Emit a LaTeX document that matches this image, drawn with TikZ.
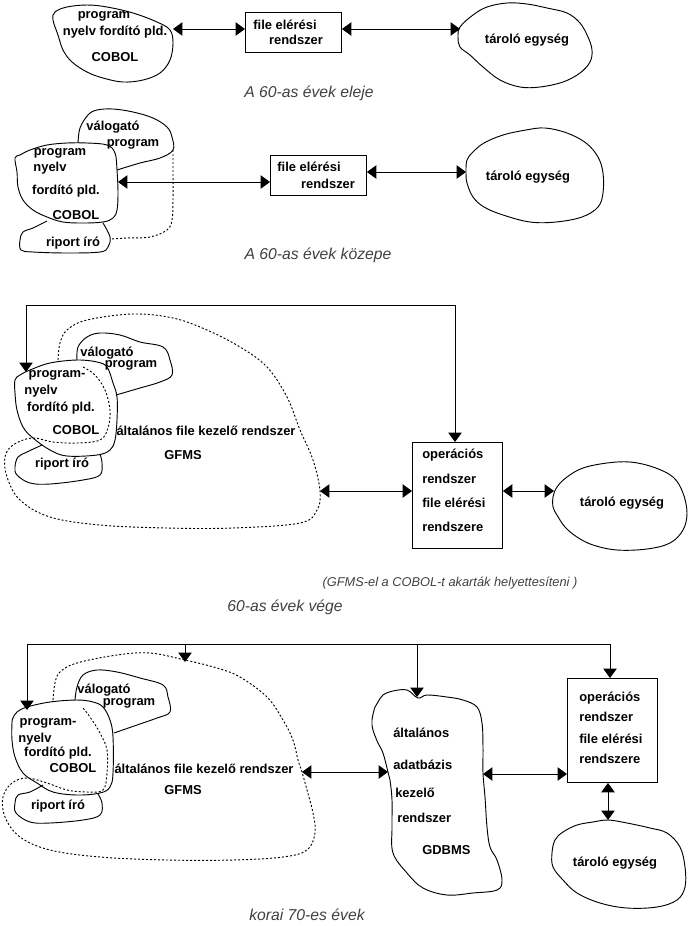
\documentclass[tikz,border=0pt]{standalone}
\usepackage{fontspec}
\setmainfont{Liberation Sans}
\usetikzlibrary{arrows.meta}
\begin{document}
\begin{tikzpicture}[x=0.75pt,y=-0.75pt,
  lbl/.style={font=\fontsize{9.7}{11}\selectfont\bfseries, inner sep=0pt},
  lbll/.style={lbl, anchor=west},
  captxt/.style={font=\fontsize{11.8}{13}\selectfont\itshape, text=black!75, inner sep=0pt},
  notest/.style={font=\fontsize{9.6}{11}\selectfont\itshape, text=black!75, inner sep=0pt},
  blob/.style={line width=0.7pt},
  dots/.style={line width=0.7pt, dash pattern=on 1.5pt off 1.5pt},
  boxst/.style={draw, line width=0.7pt, inner sep=0pt, anchor=north west},
  conn/.style={line width=0.7pt, {Triangle[length=7pt,width=10pt]}-{Triangle[length=7pt,width=10pt]}},
  drop/.style={line width=0.7pt, -{Triangle[length=7pt,width=10pt]}},
]
\useasboundingbox (0,0) rectangle (688,926);

% ================= Panel 1 =================
\draw[blob] plot[smooth cycle, tension=0.6] coordinates {(55,12) (67,7) (87,5) (107,7) (133,13) (157,22) (170,30) (173,43) (170,60) (160,73) (143,80) (123,82) (103,78) (87,72) (72,62) (63,50) (58,35) (53,20)};
\node[lbl] (p1a) at (104,16) {program};
\node[lbl] (p1b) at (115,32) {nyelv fordító pld.};
\node[lbl] (p1c) at (115,57) {COBOL};
\coordinate (c1r) at (173,29);
\node[boxst, minimum width=72pt, minimum height=30pt] (b1) at (245,12) {};
\node[lbl] (b1a) at (285,25) {file elérési};
\node[lbl] (b1b) at (296,40) {rendszer};
\draw[blob] plot[smooth cycle, tension=0.6] coordinates {(460,27) (473,15) (487,7) (507,3) (527,4) (547,8) (567,13) (580,23) (588,37) (592,50) (590,62) (580,73) (563,82) (540,87) (520,87) (500,80) (483,67) (470,55) (460,47) (458,37)};
\coordinate (t1l) at (460,29);
\node[lbl] (t1) at (527,40) {tároló egység};
\draw[conn] (c1r) -- (c1r -| b1.west);
\draw[conn] (b1.east |- t1l) -- (t1l);
\node[captxt] (cap1) at (309,93) {A 60-as évek eleje};

% ================= Panel 2 =================
\draw[blob] plot[smooth cycle, tension=0.6] coordinates {(15,158) (20,155) (30,150) (47,145) (67,143) (87,143) (107,145) (115,153) (117,170) (118,193) (117,210) (113,218) (103,222) (83,223) (63,222) (47,217) (33,210) (23,200) (18,187) (17,172)};
\draw[blob] plot[smooth, tension=0.6] coordinates {(78,143) (80,128) (88,115) (97,110) (113,109) (133,112) (153,118) (167,127) (172,137) (173,150) (160,158) (140,163) (117,170)};
\draw[dots] plot[smooth, tension=0.6] coordinates {(173,150) (173,170) (173,200) (172,220) (167,230) (150,237) (127,238) (110,239)};
\draw[blob] plot[smooth, tension=0.6] coordinates {(47,221) (33,228) (23,232) (20,240) (21,250) (33,252) (67,253) (100,252) (108,247) (110,237) (103,223)};
\node[lbl] (p2a) at (60,153) {program};
\node[lbl] (p2b) at (50,168) {nyelv};
\node[lbl] (p2c) at (66,191) {fordító pld.};
\node[lbl] (p2d) at (76,215) {COBOL};
\node[lbl] (v2a) at (113,127) {válogató};
\node[lbl] (v2b) at (133,144) {program};
\node[lbl] (r2) at (73,243) {riport író};
\coordinate (c2r) at (118,182);
\node[boxst, minimum width=72pt, minimum height=30pt] (b2) at (270,155) {};
\node[lbl] (b2a) at (309,167) {file elérési};
\node[lbl] (b2b) at (328,184) {rendszer};
\draw[blob] plot[smooth cycle, tension=0.6] coordinates {(467,160) (473,152) (484,143) (503,135) (526,130) (545,128) (567,133) (586,143) (598,157) (603,173) (603,193) (598,207) (582,217) (556,222) (530,222) (503,215) (484,207) (473,197) (467,183) (466,172)};
\coordinate (t2l) at (466,172);
\node[lbl] (t2) at (528,177) {tároló egység};
\draw[conn] (c2r) -- (c2r -| b2.west);
\draw[conn] (b2.east |- t2l) -- (t2l);
\node[captxt] (cap2) at (318,255) {A 60-as évek közepe};

% ================= Panel 3 =================
\draw[dots] plot[smooth, tension=0.6] coordinates {(58,360) (60,343) (67,330) (87,320) (133,314) (173,318) (207,330) (240,347) (267,367) (287,397) (300,430) (313,460) (320,491) (317,510) (300,523) (233,528) (167,528) (100,525) (50,517) (20,500) (7,477) (5,457) (13,445) (32,438) (53,442) (77,443) (100,440) (108,428) (110,410) (105,390) (95,375) (83,367)};
\draw[blob] plot[smooth cycle, tension=0.6] coordinates {(15,380) (20,375) (30,370) (50,363) (77,360) (97,362) (107,367) (113,383) (117,397) (117,420) (115,440) (110,450) (97,455) (67,456) (50,450) (33,438) (23,427) (17,410) (15,393)};
\draw[blob] plot[smooth, tension=0.6] coordinates {(77,360) (78,347) (87,337) (100,333) (120,335) (140,342) (163,347) (170,360) (172,375) (160,382) (140,388) (116,395)};
\draw[blob] plot[smooth, tension=0.6] coordinates {(42,445) (27,452) (18,457) (15,467) (17,475) (30,483) (50,484) (83,480) (100,475) (102,463) (100,454)};
\node[lbl] (p3a) at (57,375) {program-};
\node[lbl] (p3b) at (41,391) {nyelv};
\node[lbl] (p3c) at (61,408) {fordító pld.};
\node[lbl] (p3d) at (76,430) {COBOL};
\node[lbl] (v3a) at (107,353) {válogató};
\node[lbl] (v3b) at (131,365) {program};
\node[lbl] (r3) at (62,464) {riport író};
\node[lbl] (g3a) at (206,431) {általános file kezelő rendszer};
\node[lbl] (g3b) at (183,455) {GFMS};
\coordinate (g3r) at (320,491);
\node[boxst, minimum width=67.5pt, minimum height=79.5pt] (b3) at (412,442) {};
\node[lbll] (b3a) at (422,455) {operációs};
\node[lbll] (b3b) at (422,479) {rendszer};
\node[lbll] (b3c) at (422,503) {file elérési};
\node[lbll] (b3d) at (422,527) {rendszere};
\draw[blob] plot[smooth cycle, tension=0.6] coordinates {(553,497) (557,487) (567,477) (583,468) (607,463) (630,462) (653,467) (673,477) (683,493) (687,513) (683,530) (670,543) (647,549) (617,550) (593,545) (577,537) (565,527) (557,515) (553,507)};
\coordinate (t3l) at (554,491);
\node[lbl] (t3) at (622,503) {tároló egység};
\coordinate (p3tip) at (26,372);
\coordinate (p3c1) at (26,305);
\coordinate (p3c2) at (455,305);
\draw[conn] (p3tip) -- (p3c1) -- (p3c2) -- (p3c2 |- b3.north);
\draw[conn] (g3r) -- (g3r -| b3.west);
\draw[conn] (b3.east |- t3l) -- (t3l);
\node[notest] (n3) at (450,583) {(GFMS-el a COBOL-t akarták helyettesíteni )};
\node[captxt] (cap3) at (285,607) {60-as évek vége};

% ================= Panel 4 =================
\draw[dots] plot[smooth, tension=0.6] coordinates {(53,700) (55,683) (60,672) (77,663) (117,655) (150,653) (185,660) (217,668) (240,677) (267,697) (283,720) (293,740) (298,760) (302,772) (307,790) (313,813) (315,833) (307,850) (283,857) (233,860) (167,860) (100,857) (50,850) (20,837) (5,817) (3,797) (12,783) (27,778) (47,783) (67,790) (87,792) (103,790) (107,773) (107,750) (100,733) (90,717) (83,708)};
\draw[blob] plot[smooth cycle, tension=0.6] coordinates {(13,718) (17,712) (27,707) (50,702) (77,700) (93,702) (103,707) (110,720) (113,737) (113,773) (110,787) (100,793) (77,795) (53,792) (37,783) (23,773) (15,757) (12,740) (12,723)};
\draw[blob] plot[smooth, tension=0.6] coordinates {(75,700) (77,687) (83,675) (97,670) (117,672) (140,678) (163,685) (168,697) (170,712) (157,718) (137,725) (114,733)};
\draw[blob] plot[smooth, tension=0.6] coordinates {(43,785) (30,792) (18,795) (15,803) (16,813) (30,822) (50,823) (83,820) (100,815) (102,803) (98,794)};
\node[lbl] (p4a) at (48,723) {program-};
\node[lbl] (p4b) at (35,739) {nyelv};
\node[lbl] (p4c) at (58,753) {fordító pld.};
\node[lbl] (p4d) at (73,768) {COBOL};
\node[lbl] (v4a) at (104,690) {válogató};
\node[lbl] (v4b) at (129,703) {program};
\node[lbl] (r4) at (58,806) {riport író};
\node[lbl] (g4a) at (204,769) {általános file kezelő rendszer};
\node[lbl] (g4b) at (183,790) {GFMS};
\coordinate (g4r) at (302,772);
\draw[blob] plot[smooth cycle, tension=0.6] coordinates {(378,702) (383,695) (393,691) (407,690) (418,698) (427,695) (447,697) (463,700) (477,707) (482,723) (483,747) (483,773) (485,797) (487,827) (490,847) (497,860) (502,880) (497,890) (473,893) (447,895) (423,888) (407,873) (393,853) (392,827) (392,800) (390,780) (388,772) (383,753) (378,743) (373,730) (372,720) (375,707)};
\coordinate (d4l) at (388,772);
\coordinate (d4r) at (483,774);
\coordinate (d4top) at (417,697);
\node[lbll] (d4a) at (393,733) {általános};
\node[lbll] (d4b) at (393,765) {adatbázis};
\node[lbll] (d4c) at (395,793) {kezelő};
\node[lbll] (d4d) at (397,818) {rendszer};
\node[lbll] (d4e) at (422,850) {GDBMS};
\node[boxst, minimum width=67.5pt, minimum height=78pt] (b4) at (567,678) {};
\node[lbll] (b4a) at (579,698) {operációs};
\node[lbll] (b4b) at (579,717) {rendszer};
\node[lbll] (b4c) at (579,739) {file elérési};
\node[lbll] (b4d) at (579,759) {rendszere};
\draw[blob] plot[smooth cycle, tension=0.6] coordinates {(555,840) (563,832) (577,825) (593,822) (608,820) (627,823) (650,828) (667,833) (680,847) (685,867) (685,887) (677,900) (657,907) (627,908) (600,903) (577,893) (563,880) (553,867) (552,853)};
\coordinate (t4top) at (608,820);
\node[lbl] (t4) at (615,863) {tároló egység};
\coordinate (p4tip) at (27,710);
\coordinate (p4c1) at (27,644);
\coordinate (p4c2) at (185,644);
\coordinate (p4c3) at (417,644);
\coordinate (p4c4) at (610,644);
\coordinate (g4tip) at (185,662);
\draw[conn] (p4tip) -- (p4c1) -- (p4c4) -- (p4c4 |- b4.north);
\draw[drop] (p4c2) -- (g4tip);
\draw[drop] (p4c3) -- (d4top);
\draw[conn] (g4r) -- (d4l);
\draw[conn] (d4r) -- (d4r -| b4.west);
\draw[conn] (t4top |- b4.south) -- (t4top);
\node[captxt] (cap4) at (307,915) {korai 70-es évek};
\end{tikzpicture}
\end{document}
